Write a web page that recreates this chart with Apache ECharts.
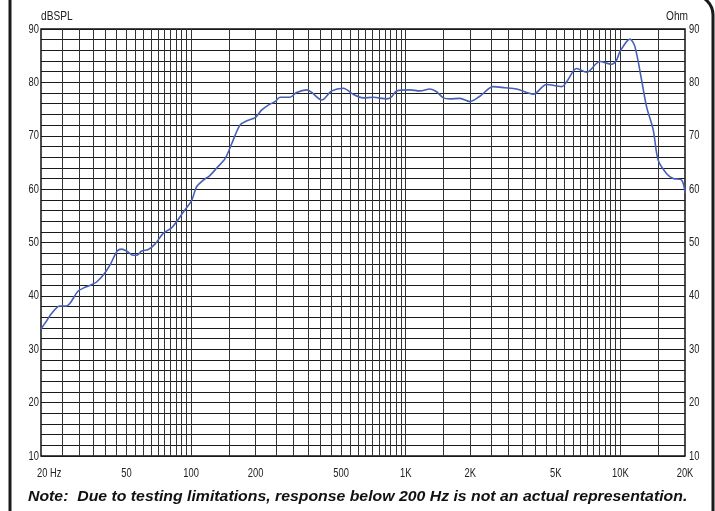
<!DOCTYPE html>
<html>
<head>
<meta charset="utf-8">
<script src="https://cdn.jsdelivr.net/npm/echarts@6/dist/echarts.min.js"></script>
<style>
html,body{margin:0;padding:0;background:#fff;}
#c{width:715px;height:511px;}
</style>
</head>
<body>
<div id="c"></div>
<script>
// Frequency response (Hz) and SPL (dB)
const freqs = [20, 21.3, 22.4, 24.5, 26.3, 27.3, 29.8, 32.1, 34.4, 36.3, 39, 41.9, 45.3, 47.5, 50.1, 53.8, 55.8, 58.9, 63.2, 67.9, 74.2, 81.2, 85.7, 92, 100.7, 106, 114, 122, 132, 144, 155, 169, 182, 199, 213, 229, 246, 260, 289, 310, 346, 365, 406, 452, 512, 570, 634, 706, 815, 860, 907, 1047, 1165, 1297, 1393, 1496, 1607, 1789, 1991, 2216, 2556, 2898, 3286, 3926, 4534, 5326, 5618, 6254, 6960, 8030, 9102, 9604, 9950, 11076, 11686, 12560, 13250, 14222, 15004, 16422, 17620, 19286, 20000];
const spl = [33.8, 35.4, 36.7, 38.1, 38.1, 38.6, 40.9, 41.6, 42.1, 42.6, 43.9, 45.75, 48.4, 48.75, 48.4, 47.6, 47.6, 48.4, 48.7, 49.7, 51.7, 52.75, 53.9, 55.7, 57.9, 60.4, 61.7, 62.5, 64.0, 65.7, 68.6, 72.0, 72.8, 73.4, 74.8, 75.75, 76.4, 77.2, 77.2, 78.1, 78.6, 78.1, 76.7, 78.4, 78.9, 77.75, 77.1, 77.2, 76.9, 77.3, 78.4, 78.6, 78.4, 78.75, 78.25, 77.1, 76.9, 77.0, 76.4, 77.4, 79.2, 79.0, 78.75, 77.8, 79.6, 79.2, 80.1, 82.6, 81.9, 83.9, 83.4, 84.2, 85.75, 88.1, 86.7, 80.4, 75.4, 71.1, 65.4, 62.9, 62.0, 61.7, 59.3];

// Vertical grid line frequencies
const gridFreqs = [25, 30, 35, 40, 45, 50, 55, 60, 65, 70, 75, 80, 85, 90, 95, 100, 150,
  200, 250, 300, 350, 400, 450, 500, 550, 600, 650, 700, 750, 800, 850, 900, 950, 1000, 1500,
  2000, 2500, 3000, 3500, 4000, 4500, 5000, 5500, 6000, 6500, 7000, 7500, 8000, 8500, 9000, 9500, 10000, 15000];

// X tick labels
const xTickValues = [20, 50, 100, 200, 500, 1000, 2000, 5000, 10000, 20000];
const xTickLabels = ['20 Hz', '50', '100', '200', '500', '1K', '2K', '5K', '10K', '20K'];

// Y axis
const yMin = 10, yMax = 90, yGridStep = 2;
const yTickValues = [10, 20, 30, 40, 50, 60, 70, 80, 90];

const labelFont = '13px "Liberation Sans", Arial, sans-serif';
const narrowScale = 0.72;

const chart = echarts.init(document.getElementById('c'), null, {renderer: 'canvas'});

chart.setOption({
  animation: false,
  backgroundColor: '#ffffff',
  grid: {
    left: 41, right: 30, top: 29, bottom: 55,
    show: true, borderColor: '#111', borderWidth: 1.5, backgroundColor: 'transparent'
  },
  xAxis: {
    type: 'log', logBase: 10, min: 20, max: 20000,
    axisLine: {show: false}, axisTick: {show: false},
    axisLabel: {show: false}, splitLine: {show: false}
  },
  yAxis: [
    {
      type: 'value', min: yMin, max: yMax, interval: yGridStep, position: 'left',
      axisLine: {show: false}, axisTick: {show: false}, axisLabel: {show: false},
      splitLine: {show: true, lineStyle: {color: '#1a1a1a', width: 1}}
    },
    {
      type: 'value', min: yMin, max: yMax, interval: yGridStep, position: 'right',
      axisLine: {show: false}, axisTick: {show: false}, axisLabel: {show: false},
      splitLine: {show: false}
    }
  ],
  series: [
    {
      type: 'line', silent: true, z: 1, data: [],
      markLine: {
        silent: true, symbol: 'none', animation: false,
        label: {show: false},
        lineStyle: {color: '#333', width: 1, type: 'solid'},
        emphasis: {disabled: true},
        data: gridFreqs.map(f => ({xAxis: f}))
      }
    },
    {
      type: 'line', z: 5,
      data: freqs.map((f, i) => [f, spl[i]]),
      showSymbol: false, smooth: 0.3,
      lineStyle: {color: '#4660b8', width: 1.6},
      silent: true
    }
  ]
});

// Tick labels placed through the axes' own scales, drawn in a narrow (condensed) style
const xPix = f => chart.convertToPixel({xAxisIndex: 0}, f);
const yPix = v => chart.convertToPixel({yAxisIndex: 0}, v);
const plotLeft = xPix(20), plotRight = xPix(20000), plotBottom = yPix(yMin), plotTop = yPix(yMax);

const graphics = [
  {type: 'rect', shape: {x: 10, y: -5, width: 703, height: 540, r: [0, 20, 0, 0]},
   style: {fill: 'none', stroke: '#1a1a1a', lineWidth: 3}, silent: true},
  {type: 'text', x: plotLeft, y: plotTop - 13, scaleX: 0.78,
   style: {text: 'dBSPL', font: labelFont, fill: '#222', align: 'left', verticalAlign: 'middle'}},
  {type: 'text', x: plotRight + 3, y: plotTop - 13, scaleX: 0.78,
   style: {text: 'Ohm', font: labelFont, fill: '#222', align: 'right', verticalAlign: 'middle'}},
  {type: 'text', x: 28, y: 497, scaleX: 1.13,
   style: {text: 'Note:  Due to testing limitations, response below 200 Hz is not an actual representation.',
     font: 'italic bold 14px "Liberation Sans", Arial, sans-serif', fill: '#111', align: 'left', verticalAlign: 'middle'}}
];
xTickValues.forEach((f, i) => {
  const first = i === 0;
  graphics.push({type: 'text', x: xPix(f) + (first ? -4 : 0), y: plotBottom + 17, scaleX: narrowScale,
    style: {text: xTickLabels[i], font: labelFont, fill: '#222', align: first ? 'left' : 'center', verticalAlign: 'middle'}});
});
yTickValues.forEach(v => {
  graphics.push({type: 'text', x: plotLeft - 2, y: yPix(v), scaleX: narrowScale,
    style: {text: String(v), font: labelFont, fill: '#222', align: 'right', verticalAlign: 'middle'}});
  graphics.push({type: 'text', x: plotRight + 4, y: yPix(v), scaleX: narrowScale,
    style: {text: String(v), font: labelFont, fill: '#222', align: 'left', verticalAlign: 'middle'}});
});
chart.setOption({graphic: graphics});
</script>
</body>
</html>
